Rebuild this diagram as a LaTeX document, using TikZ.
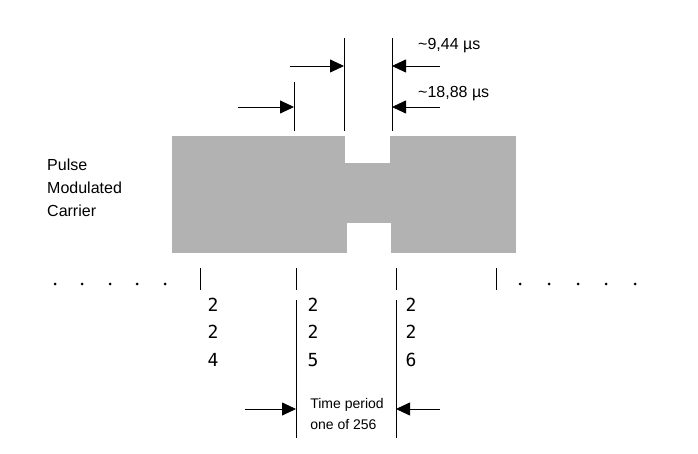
\documentclass[tikz,border=0pt]{standalone}
\usepackage{fontspec}
\setmainfont{Liberation Sans}
\setmonofont{DejaVu Sans Mono}
\usetikzlibrary{arrows.meta}
\begin{document}
\begin{tikzpicture}[x=1pt,y=-1pt,
    every node/.style={inner sep=0pt},
    dim/.style={line width=0.8pt, -{Triangle[length=14pt,width=13pt]}},
    tick/.style={line width=0.8pt},
    lbl/.style={font=\fontsize{16}{23}\selectfont, anchor=west},
    num/.style={font=\ttfamily\fontsize{18}{22}\selectfont}]

  \useasboundingbox (0,0) rectangle (698,454);

  % carrier
  \fill[black!30] (172,136) rectangle (516,253);
  \fill[white] (345,136) rectangle (390,163);
  \fill[white] (347,223) rectangle (391,253);

  \node[lbl, align=left] (carrier) at (47,188) {Pulse\\Modulated\\Carrier};

  % top marks
  \coordinate (ma) at (294,107);
  \coordinate (mb) at (344,66);
  \coordinate (mc) at (392,66);
  \coordinate (md) at (392,107);
  \draw[tick] (294,82) -- (294,131);
  \draw[tick] (344,38) -- (344,131);
  \draw[tick] (392,38) -- (392,131);
  \draw[dim] (290,66) -- (mb);
  \draw[dim] (440,66) -- (mc);
  \draw[dim] (238,107) -- (ma);
  \draw[dim] (440,107) -- (md);
  \node[lbl] (short) at (418,46) {\textasciitilde9,44 µs};
  \node[lbl] (long) at (418,94) {\textasciitilde18,88 µs};

  % time axis
  \foreach \x in {55,82,110,137,165,520,549,578,606,635}
    \fill (\x,284) circle (1.5pt);
  \foreach \x in {200,296,396,496}
    \draw[tick] (\x,268) -- (\x,290);
  \draw[tick] (296,300) -- (296,438);
  \draw[tick] (396,300) -- (396,438);

  \foreach \x/\d in {213/4,313/5,411/6} {
    \node[num] at (\x,305) {2};
    \node[num] at (\x,332) {2};
    \node[num] at (\x,360) {\d};
  }

  \coordinate (pa) at (296,409);
  \coordinate (pb) at (396,409);
  \draw[dim] (245,409) -- (pa);
  \draw[dim] (440,409) -- (pb);
  \node[font=\fontsize{14}{21}\selectfont, align=left] (period) at (347,414) {Time period\\one of 256};
\end{tikzpicture}
\end{document}
